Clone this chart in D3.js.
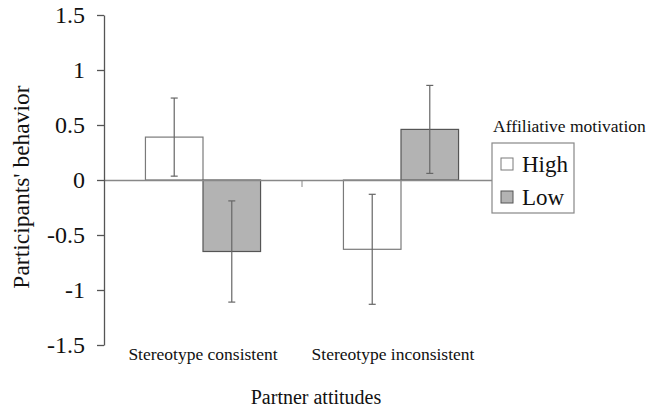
<!DOCTYPE html>
<html>
<head>
<meta charset="utf-8">
<script src="https://cdn.jsdelivr.net/npm/d3@7"></script>
<style>
  body { margin: 0; background: #fff; }
  svg text { font-family: "Liberation Serif", Tinos, "Times New Roman", "DejaVu Serif", serif; fill: #111; }
</style>
</head>
<body>
<div id="chart"></div>
<script>
const categories = ['Stereotype consistent', 'Stereotype inconsistent'];
const groups = ['High', 'Low'];
const highValues = [0.39, -0.63];
const lowValues = [-0.65, 0.46];
const highErrors = [0.355, 0.5];
const lowErrors = [0.46, 0.4];
const yTicks = [1.5, 1, 0.5, 0, -0.5, -1, -1.5];

const width = 651;
const height = 408;
const serif = '"Liberation Serif", Tinos, "Times New Roman", "DejaVu Serif", serif';

const svg = d3.select('#chart')
  .append('svg')
  .attr('width', width)
  .attr('height', height)
  .attr('font-family', serif);

// plot area
const left = 104;
const right = 500;

const x = d3.scaleBand()
  .domain(categories)
  .range([left, right]);

const xInner = d3.scaleBand()
  .domain(groups)
  .range([0, x.bandwidth()])
  .paddingOuter(0.72)
  .paddingInner(0);

const y = d3.scaleLinear()
  .domain([-1.5, 1.5])
  .range([345, 15]);

const rows = [];
categories.forEach((c, i) => {
  rows.push({ cat: c, group: 'High', value: highValues[i], err: highErrors[i] });
  rows.push({ cat: c, group: 'Low', value: lowValues[i], err: lowErrors[i] });
});

const fill = { High: '#ffffff', Low: '#b3b3b3' };
const stroke = { High: '#7a7a7a', Low: '#555555' };

// bars
svg.append('g')
  .selectAll('rect')
  .data(rows)
  .enter()
  .append('rect')
  .attr('x', d => x(d.cat) + xInner(d.group))
  .attr('width', xInner.bandwidth())
  .attr('y', d => Math.min(y(d.value), y(0)))
  .attr('height', d => Math.abs(y(d.value) - y(0)))
  .attr('fill', d => fill[d.group])
  .attr('stroke', d => stroke[d.group])
  .attr('stroke-width', 1.2);

// zero line + category separator tick
const xAxis = svg.append('g')
  .attr('transform', `translate(0,${y(0)})`)
  .call(d3.axisBottom(x).tickSize(0).tickFormat(''));
xAxis.select('.domain').attr('stroke', '#888').attr('stroke-width', 1.3);
xAxis.append('line')
  .attr('x1', x(categories[1]))
  .attr('x2', x(categories[1]))
  .attr('y1', 0)
  .attr('y2', 7)
  .attr('stroke', '#888');

// error bars
const eb = svg.append('g')
  .attr('stroke', '#666')
  .attr('stroke-width', 1.2)
  .selectAll('g')
  .data(rows)
  .enter()
  .append('g')
  .attr('transform', d => `translate(${x(d.cat) + xInner(d.group) + xInner.bandwidth() / 2},0)`);
eb.append('line')
  .attr('y1', d => y(d.value + d.err))
  .attr('y2', d => y(d.value - d.err));
eb.append('line')
  .attr('x1', -3.5).attr('x2', 3.5)
  .attr('y1', d => y(d.value + d.err))
  .attr('y2', d => y(d.value + d.err));
eb.append('line')
  .attr('x1', -3.5).attr('x2', 3.5)
  .attr('y1', d => y(d.value - d.err))
  .attr('y2', d => y(d.value - d.err));

// y axis
const yAxis = svg.append('g')
  .attr('transform', `translate(${left},0)`)
  .call(d3.axisLeft(y).tickValues(yTicks).tickSize(7).tickSizeOuter(0).tickPadding(12).tickFormat(d => String(d)));
yAxis.attr('font-family', serif);
yAxis.select('.domain').attr('stroke', '#555').attr('stroke-width', 1.3);
yAxis.selectAll('.tick line').attr('stroke', '#555').attr('stroke-width', 1.3);
yAxis.selectAll('.tick text')
  .attr('font-size', 24)
  .attr('fill', '#111');

// category labels (second one sits a bit left of its band centre)
svg.append('g')
  .selectAll('text')
  .data(categories)
  .enter()
  .append('text')
  .attr('x', (d, i) => x(d) + x.bandwidth() / 2 - i * 8)
  .attr('y', 360)
  .attr('text-anchor', 'middle')
  .attr('font-size', 17.5)
  .text(d => d);

// axis titles
svg.append('text')
  .attr('x', 316)
  .attr('y', 404)
  .attr('text-anchor', 'middle')
  .attr('font-size', 20)
  .text('Partner attitudes');

svg.append('text')
  .attr('transform', 'translate(29,187) rotate(-90)')
  .attr('text-anchor', 'middle')
  .attr('font-size', 23.5)
  .text("Participants' behavior");

// legend
svg.append('text')
  .attr('x', 493)
  .attr('y', 132)
  .attr('font-size', 17.5)
  .text('Affiliative motivation');

const legend = svg.append('g').attr('transform', 'translate(492,143)');
legend.append('rect')
  .attr('width', 82)
  .attr('height', 70)
  .attr('fill', '#fff')
  .attr('stroke', '#888')
  .attr('stroke-width', 1.2);

const item = legend.selectAll('g.item')
  .data(groups)
  .enter()
  .append('g')
  .attr('class', 'item')
  .attr('transform', (d, i) => `translate(9,${15 + i * 33})`);
item.append('rect')
  .attr('width', 12)
  .attr('height', 12)
  .attr('fill', d => fill[d])
  .attr('stroke', d => stroke[d]);
item.append('text')
  .attr('x', 21)
  .attr('y', 14)
  .attr('font-size', 23)
  .text(d => d);
</script>
</body>
</html>
